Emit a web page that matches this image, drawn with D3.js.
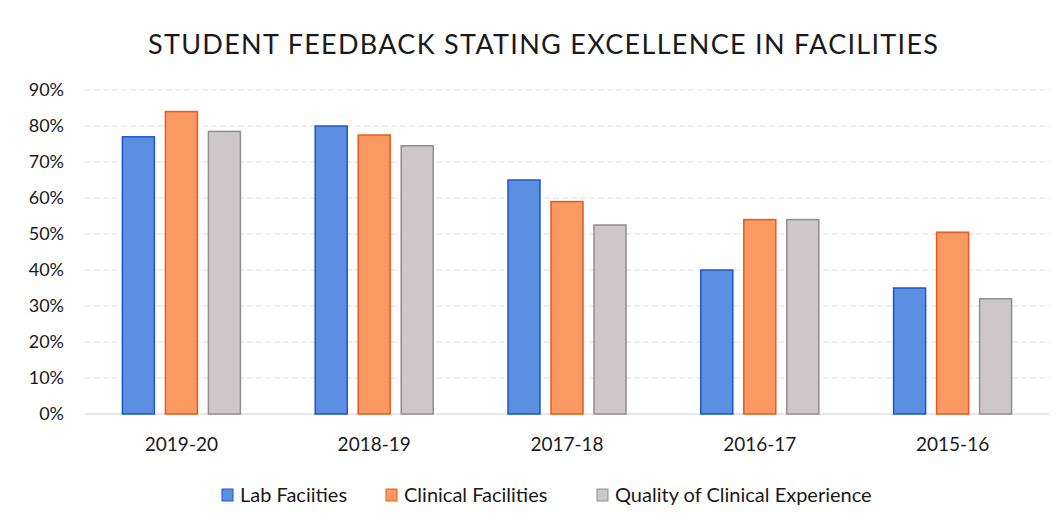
<!DOCTYPE html>
<html>
<head>
<meta charset="utf-8">
<script src="https://cdn.jsdelivr.net/npm/d3@7"></script>
<style>
  body { margin: 0; background: #ffffff; }
  svg { display: block; font-family: Lato, "Open Sans", sans-serif; }
</style>
</head>
<body>
<svg id="chart" width="1061" height="530"></svg>
<script>
(function(){

  // DATA ////////////////////////////////////////////////////////////////////

  var years = ["2019-20", "2018-19", "2017-18", "2016-17", "2015-16"];
  var seriesNames = ["Lab Faciities", "Clinical Facilities", "Quality of Clinical Experience"];
  var labFacilities = [77, 80, 65, 40, 35];
  var clinicalFacilities = [84, 77.5, 59, 54, 50.5];
  var clinicalExperience = [78.5, 74.5, 52.5, 54, 32];
  var yTicks = [0, 10, 20, 30, 40, 50, 60, 70, 80, 90];

  var fills = ["#5c8fe2", "#f99a62", "#cdc7c9"];
  var strokes = ["#1d55cc", "#ea5a1c", "#948c90"];

  var rows = years.map(function(y, i){
    return { year: y, values: [labFacilities[i], clinicalFacilities[i], clinicalExperience[i]] };
  });

  // LAYOUT //////////////////////////////////////////////////////////////////

  var svg = d3.select("#chart");
  var left = 85, right = 1049, top = 90, bottom = 414;

  var x = d3.scaleBand().domain(years).range([left, right]).padding(0);
  var xInner = d3.scaleBand().domain([0, 1, 2]).range([-59, 59]).paddingInner(0.256);
  var y = d3.scaleLinear().domain([0, 90]).range([bottom, top]);

  // title
  svg.append("text")
    .attr("x", 543).attr("y", 54)
    .attr("text-anchor", "middle")
    .attr("font-size", 27)
    .attr("fill", "#1a1a1a")
    .attr("textLength", 790)
    .text("STUDENT FEEDBACK STATING EXCELLENCE IN FACILITIES");

  // gridlines
  svg.append("g")
    .selectAll("line")
    .data(yTicks)
    .enter()
    .append("line")
    .attr("x1", left).attr("x2", right)
    .attr("y1", function(d){ return y(d); })
    .attr("y2", function(d){ return y(d); })
    .attr("stroke", function(d){ return d === 0 ? "#cfcfcf" : "#e2dcdc"; })
    .attr("stroke-width", 1)
    .attr("stroke-dasharray", function(d){ return d === 0 ? null : "6,3"; });

  // y axis labels
  var yAxis = d3.axisLeft(y).tickValues(yTicks).tickSize(0).tickPadding(0)
    .tickFormat(function(d){ return d + "%"; });
  svg.append("g")
    .attr("transform", "translate(64,0)")
    .call(yAxis)
    .call(function(g){ g.select(".domain").remove(); })
    .selectAll("text")
    .attr("font-size", 18)
    .attr("font-family", "Lato, sans-serif")
    .attr("fill", "#1a1a1a");

  // x axis labels
  var xAxis = d3.axisBottom(x).tickSize(0).tickPadding(0);
  svg.append("g")
    .attr("transform", "translate(0," + 437 + ")")
    .call(xAxis)
    .call(function(g){ g.select(".domain").remove(); })
    .selectAll("text")
    .attr("font-size", 19)
    .attr("font-family", "Lato, sans-serif")
    .attr("fill", "#1a1a1a");

  // bars
  var groups = svg.append("g")
    .selectAll("g")
    .data(rows)
    .enter()
    .append("g")
    .attr("transform", function(d){ return "translate(" + (x(d.year) + x.bandwidth() / 2) + ",0)"; });

  groups.selectAll("rect")
    .data(function(d){ return d.values; })
    .enter()
    .append("rect")
    .attr("x", function(d, i){ return xInner(i); })
    .attr("width", xInner.bandwidth())
    .attr("y", function(d){ return y(d); })
    .attr("height", function(d){ return y(0) - y(d); })
    .attr("fill", function(d, i){ return fills[i]; })
    .attr("stroke", function(d, i){ return strokes[i]; })
    .attr("stroke-width", 1.5);

  // legend
  var legendX = [222, 386, 597];
  var legend = svg.append("g")
    .selectAll("g")
    .data(seriesNames)
    .enter()
    .append("g")
    .attr("transform", function(d, i){ return "translate(" + legendX[i] + ",495)"; });

  legend.append("rect")
    .attr("x", 0).attr("y", -6)
    .attr("width", 11).attr("height", 12)
    .attr("fill", function(d, i){ return fills[i]; })
    .attr("stroke", function(d, i){ return strokes[i]; })
    .attr("stroke-width", 1);

  legend.append("text")
    .attr("x", 18).attr("y", 7)
    .attr("font-size", 20)
    .attr("fill", "#1a1a1a")
    .text(function(d){ return d; });

})();
</script>
</body>
</html>
